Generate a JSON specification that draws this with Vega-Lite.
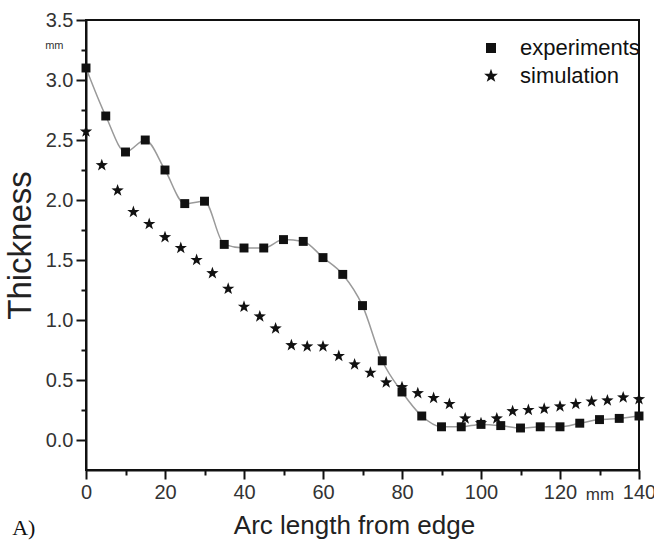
{
  "$schema": "https://vega.github.io/schema/vega-lite/v6.json",
  "width": 553,
  "height": 450,
  "autosize": {"type": "none"},
  "padding": {"left": 86, "top": 20, "right": 15, "bottom": 72},
  "background": "white",
  "title": {"text": "A)", "orient": "bottom", "anchor": "start", "frame": "bounds", "font": "Liberation Serif", "fontSize": 22, "fontWeight": "normal", "color": "#111", "offset": -20, "dx": 8},
  "data": {"values": [
    {"series": "experiments", "x": 0, "y": 3.10},
    {"series": "experiments", "x": 5, "y": 2.70},
    {"series": "experiments", "x": 10, "y": 2.40},
    {"series": "experiments", "x": 15, "y": 2.50},
    {"series": "experiments", "x": 20, "y": 2.25},
    {"series": "experiments", "x": 25, "y": 1.97},
    {"series": "experiments", "x": 30, "y": 1.99},
    {"series": "experiments", "x": 35, "y": 1.63},
    {"series": "experiments", "x": 40, "y": 1.60},
    {"series": "experiments", "x": 45, "y": 1.60},
    {"series": "experiments", "x": 50, "y": 1.67},
    {"series": "experiments", "x": 55, "y": 1.655},
    {"series": "experiments", "x": 60, "y": 1.52},
    {"series": "experiments", "x": 65, "y": 1.38},
    {"series": "experiments", "x": 70, "y": 1.12},
    {"series": "experiments", "x": 75, "y": 0.66},
    {"series": "experiments", "x": 80, "y": 0.40},
    {"series": "experiments", "x": 85, "y": 0.20},
    {"series": "experiments", "x": 90, "y": 0.11},
    {"series": "experiments", "x": 95, "y": 0.11},
    {"series": "experiments", "x": 100, "y": 0.13},
    {"series": "experiments", "x": 105, "y": 0.12},
    {"series": "experiments", "x": 110, "y": 0.10},
    {"series": "experiments", "x": 115, "y": 0.11},
    {"series": "experiments", "x": 120, "y": 0.11},
    {"series": "experiments", "x": 125, "y": 0.14},
    {"series": "experiments", "x": 130, "y": 0.17},
    {"series": "experiments", "x": 135, "y": 0.18},
    {"series": "experiments", "x": 140, "y": 0.20},
    {"series": "simulation", "x": 0, "y": 2.57},
    {"series": "simulation", "x": 4, "y": 2.29},
    {"series": "simulation", "x": 8, "y": 2.08},
    {"series": "simulation", "x": 12, "y": 1.90},
    {"series": "simulation", "x": 16, "y": 1.80},
    {"series": "simulation", "x": 20, "y": 1.69},
    {"series": "simulation", "x": 24, "y": 1.60},
    {"series": "simulation", "x": 28, "y": 1.50},
    {"series": "simulation", "x": 32, "y": 1.39},
    {"series": "simulation", "x": 36, "y": 1.26},
    {"series": "simulation", "x": 40, "y": 1.11},
    {"series": "simulation", "x": 44, "y": 1.03},
    {"series": "simulation", "x": 48, "y": 0.93},
    {"series": "simulation", "x": 52, "y": 0.79},
    {"series": "simulation", "x": 56, "y": 0.78},
    {"series": "simulation", "x": 60, "y": 0.78},
    {"series": "simulation", "x": 64, "y": 0.70},
    {"series": "simulation", "x": 68, "y": 0.63},
    {"series": "simulation", "x": 72, "y": 0.56},
    {"series": "simulation", "x": 76, "y": 0.48},
    {"series": "simulation", "x": 80, "y": 0.44},
    {"series": "simulation", "x": 84, "y": 0.39},
    {"series": "simulation", "x": 88, "y": 0.35},
    {"series": "simulation", "x": 92, "y": 0.30},
    {"series": "simulation", "x": 96, "y": 0.18},
    {"series": "simulation", "x": 100, "y": 0.14},
    {"series": "simulation", "x": 104, "y": 0.18},
    {"series": "simulation", "x": 108, "y": 0.24},
    {"series": "simulation", "x": 112, "y": 0.25},
    {"series": "simulation", "x": 116, "y": 0.26},
    {"series": "simulation", "x": 120, "y": 0.28},
    {"series": "simulation", "x": 124, "y": 0.30},
    {"series": "simulation", "x": 128, "y": 0.32},
    {"series": "simulation", "x": 132, "y": 0.33},
    {"series": "simulation", "x": 136, "y": 0.355},
    {"series": "simulation", "x": 140, "y": 0.34}
  ]},
  "resolve": {"axis": {"x": "independent", "y": "independent"}},
  "layer": [
    {
      "transform": [{"filter": "datum.series === 'experiments'"}],
      "mark": {"type": "line", "color": "#9a9a9a", "strokeWidth": 1.5, "interpolate": "monotone"},
      "encoding": {
        "x": {"field": "x", "type": "quantitative", "scale": {"domain": [0, 140], "nice": false},
          "axis": {"orient": "bottom", "values": [0, 20, 40, 60, 80, 100, 120, 140], "ticks": true, "tickSize": 9, "tickColor": "#111", "tickWidth": 2, "tickOpacity": 1, "labelFlush": false, "labelPadding": 3, "labelFontSize": 20, "title": "Arc length from edge", "titleFontSize": 26, "titlePadding": 10, "titleX": 268}},
        "y": {"field": "y", "type": "quantitative", "scale": {"domain": [-0.25, 3.5], "nice": false, "zero": false},
          "axis": {"orient": "left", "values": [0, 0.5, 1, 1.5, 2, 2.5, 3, 3.5], "format": ".1f", "ticks": true, "tickSize": 10, "tickColor": "#111", "tickWidth": 2, "tickOpacity": 1, "labelFlush": false, "labelPadding": 3, "labelFontSize": 20, "title": "Thickness", "titleFontSize": 33, "titlePadding": 8}}
      }
    },
    {
      "mark": {"type": "point", "filled": true, "opacity": 1, "color": "#111", "size": 80},
      "encoding": {
        "x": {"field": "x", "type": "quantitative",
          "axis": {"orient": "bottom", "values": [10, 30, 50, 70, 90, 110, 130], "ticks": true, "tickSize": 5, "tickColor": "#111", "tickWidth": 2, "tickOpacity": 1, "labelFlush": false, "labelPadding": 11, "labelFontSize": 17, "labelExpr": "datum.value == 130 ? 'mm' : ''", "title": null, "domain": false}},
        "y": {"field": "y", "type": "quantitative",
          "axis": {"orient": "left", "values": [0.25, 0.75, 1.25, 1.75, 2.25, 2.75, 3.25], "ticks": true, "tickSize": 5, "tickColor": "#111", "tickWidth": 2, "tickOpacity": 1, "labelFlush": false, "labelPadding": 18, "labelFontSize": 11, "labelOffset": -5, "labelExpr": "datum.value == 3.25 ? 'mm' : ''", "title": null, "domain": false}},
        "shape": {"field": "series", "type": "nominal",
          "scale": {"domain": ["experiments", "simulation"], "range": ["square", "M0,-1.45L0.341,-0.469L1.379,-0.448L0.552,0.179L0.852,1.173L0,0.58L-0.852,1.173L-0.552,0.179L-1.379,-0.448L-0.341,-0.469Z"]},
          "legend": {"orient": "none", "legendX": 394, "legendY": 17, "title": null, "padding": 0, "symbolSize": 100, "labelFontSize": 22, "labelFont": "Liberation Sans", "labelColor": "#111", "labelOffset": 18, "rowPadding": 6,
            "encode": {"symbols": {"update": {
              "shape": [
                {"test": "datum.value === 'experiments'", "value": "M-4.3,0H4.3M-0.85,-0.85H0.85V0.85H-0.85Z"},
                {"value": "M-4.3,0H4.3M0,-1.2L0.282,-0.388L1.141,-0.371L0.456,0.148L0.705,0.971L0,0.48L-0.705,0.971L-0.456,0.148L-1.141,-0.371L-0.282,-0.388Z"}
              ],
              "size": {"value": 100},
              "fill": {"value": "#111"}, "stroke": {"value": "#9a9a9a"}, "strokeWidth": {"value": 1.5}, "opacity": {"value": 1}
            }}}}}
      }
    }
  ],
  "config": {
    "view": {"stroke": "#111", "strokeWidth": 2},
    "axis": {"domainColor": "#111", "domainWidth": 2, "tickColor": "#111", "tickWidth": 2, "labelFont": "Liberation Sans", "labelFontSize": 21, "labelColor": "#333", "titleFont": "Liberation Sans", "titleFontWeight": "normal", "titleColor": "#222", "grid": false}
  }
}
